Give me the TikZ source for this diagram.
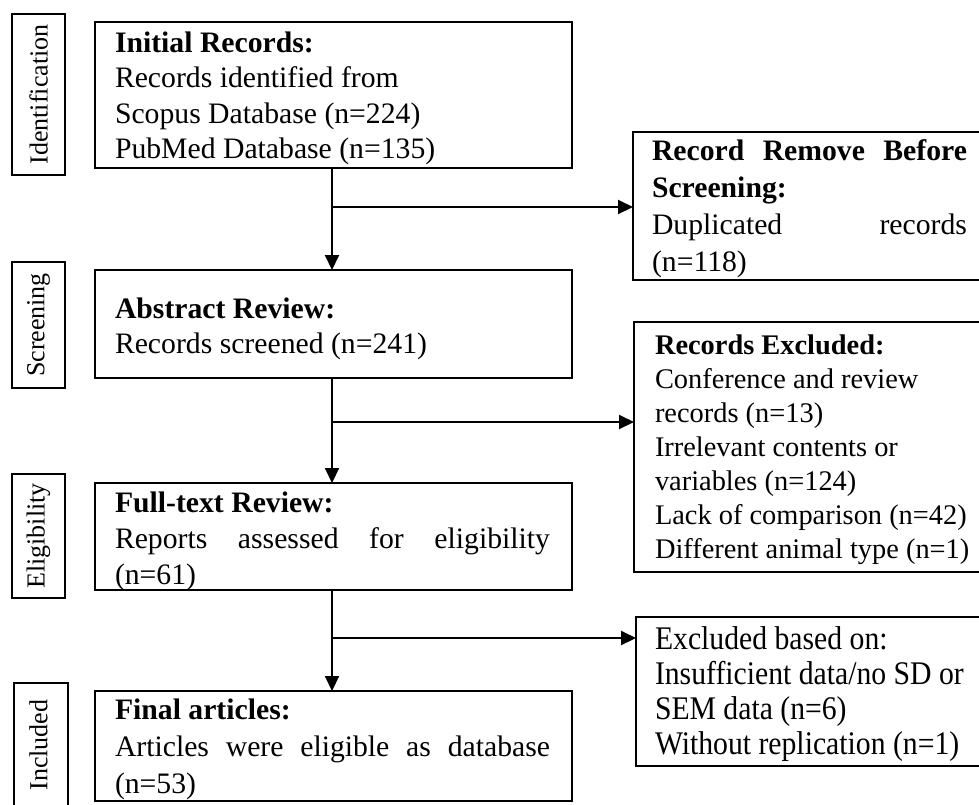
\documentclass[tikz,border=0pt]{standalone}
\usepackage{fontspec}
\setmainfont{Liberation Serif}
\newfontfamily\condfont[FakeStretch=0.9]{Liberation Serif}
\usetikzlibrary{arrows.meta}
\newcommand\fsz[2]{\fontsize{#1pt}{#2pt}\selectfont\tolerance=9999\relax}
\begin{document}
\begin{tikzpicture}[x=1pt,y=-1pt,
  box/.style={draw, line width=2.6pt, rectangle, inner sep=0pt, outer sep=0pt, anchor=north west},
  txt/.style={anchor=base west, inner sep=0pt, outer sep=0pt},
  lbl/.style={rotate=90, inner sep=0pt, font=\fsz{26}{30}},
  conn/.style={line width=2pt, -{Triangle[length=15pt,width=14pt]}},
  link/.style={line width=2pt}]
\useasboundingbox (0,0) rectangle (979,804);
\clip (0,0) rectangle (979,804);
% stage labels
\node[box, minimum width=53pt, minimum height=161pt] (s1) at (12,14) {};
\node[lbl] at (s1.center) {Identification};
\node[box, minimum width=53pt, minimum height=126pt] (s2) at (12,262) {};
\node[lbl] at (s2.center) {Screening};
\node[box, minimum width=53pt, minimum height=124pt] (s3) at (12,474) {};
\node[lbl] at (s3.center) {Eligibility};
\node[box, minimum width=54pt, minimum height=140pt] (s4) at (14,683) {};
\node[lbl] at (38.5,745) {Included};
% left boxes
\node[box, minimum width=477pt, minimum height=146pt] (b1) at (95,22) {};
\node[txt] (t1) at (115,52) {\parbox[t]{435pt}{\fsz{29.7}{35.5}\textbf{Initial Records:}\\Records identified from\\Scopus Database (n=224)\\PubMed Database (n=135)}};
\node[box, minimum width=477pt, minimum height=108pt] (b2) at (95,270) {};
\node[txt] (t2) at (115,318) {\parbox[t]{435pt}{\fsz{29.7}{35.5}\textbf{Abstract Review:}\\Records screened (n=241)}};
\node[box, minimum width=477pt, minimum height=107pt] (b3) at (95,483) {};
\node[txt] (t3) at (115,512) {\parbox[t]{435pt}{\fsz{29.7}{36}\textbf{Full-text Review:}\\Reports assessed for eligibility\linebreak (n=61)}};
\node[box, minimum width=477pt, minimum height=110pt] (b4) at (95,691) {};
\node[txt] (t4) at (115,719) {\parbox[t]{435pt}{\fsz{29.7}{37}\textbf{Final articles:}\\Articles were eligible as database\linebreak (n=53)}};
% right boxes
\node[box, minimum width=370pt, minimum height=148pt] (r1) at (633,132) {};
\node[txt] (u1) at (652,160) {\parbox[t]{315pt}{\fsz{29.7}{37.3}\textbf{Record Remove Before\linebreak Screening:}\\Duplicated records\linebreak (n=118)}};
\node[box, minimum width=370pt, minimum height=250pt] (r2) at (634,322) {};
\node[txt] (u2) at (655,354) {\parbox[t]{315pt}{\fsz{28.4}{34}\textbf{Records Excluded:}\\Conference and review\\records (n=13)\\Irrelevant contents or\\variables (n=124)\\Lack of comparison (n=42)\\Different animal type (n=1)}};
\node[box, minimum width=370pt, minimum height=149pt] (r3) at (636,617) {};
\node[txt] (u3) at (655,649) {\parbox[t]{320pt}{\condfont\fsz{33}{35}Excluded based on:\\Insufficient data/no SD or\\SEM data (n=6)\\Without replication (n=1)}};
% connectors
\coordinate (k1) at (332,207);
\coordinate (k2) at (332,422);
\coordinate (k3) at (332,638);
\draw[conn] (b1.south -| k1) -- (b2.north -| k1);
\draw[conn] (k1) -- (k1 -| r1.west);
\draw[conn] (b2.south -| k2) -- (b3.north -| k2);
\draw[conn] (k2) -- (k2 -| r2.west);
\draw[conn] (b3.south -| k3) -- (b4.north -| k3);
\draw[conn] (k3) -- (k3 -| r3.west);
\end{tikzpicture}
\end{document}
